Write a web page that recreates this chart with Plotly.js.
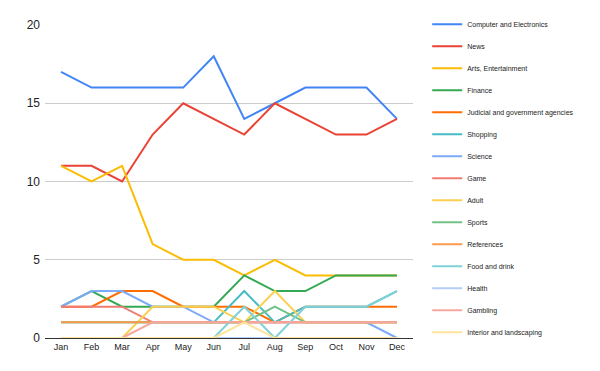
<!DOCTYPE html>
<html><head><meta charset="utf-8">
<script src="https://cdn.plot.ly/plotly-3.0.1.min.js"></script>
<style>html,body{margin:0;padding:0;background:#fff}#chart{width:600px;height:371px}</style>
</head><body><div id="chart"></div>
<script>
const months = ["Jan","Feb","Mar","Apr","May","Jun","Jul","Aug","Sep","Oct","Nov","Dec"];
const seriesNames = ["Computer and Electronics","News","Arts, Entertainment","Finance","Judicial and government agencies","Shopping","Science","Game","Adult","Sports","References","Food and drink","Health","Gambling","Interior and landscaping"];
const computer  = [17,16,16,16,16,18,14,15,16,16,16,14];
const news      = [11,11,10,13,15,14,13,15,14,13,13,14];
const arts      = [11,10,11,6,5,5,4,5,4,4,4,4];
const finance   = [2,3,2,2,2,2,4,3,3,4,4,4];
const judicial  = [2,2,3,3,2,2,2,1,2,2,2,2];
const shopping  = [1,1,1,1,1,1,3,1,2,2,2,3];
const science   = [2,3,3,2,2,1,1,1,1,1,1,0];
const game      = [2,2,2,1,1,1,1,1,1,1,1,1];
const adult     = [0,0,0,2,2,2,1,3,1,1,1,1];
const sports    = [1,1,1,1,1,1,1,2,1,1,1,1];
const references= [1,1,1,1,1,1,1,1,1,1,1,1];
const food      = [0,0,0,0,0,0,2,0,2,2,2,3];
const health    = [0,0,0,0,0,0,0,0,0,0,0,0];
const gambling  = [0,0,0,1,1,1,1,1,1,1,1,1];
const interior  = [0,0,0,0,0,0,1,0,0,0,0,0];
const allValues = [computer,news,arts,finance,judicial,shopping,science,game,adult,sports,references,food,health,gambling,interior];
const colors = ["#4285F4","#EA4335","#FBBC04","#34A853","#FF6D01","#46BDC6","#7BAAF7","#F07B72","#FCD04F","#71C287","#FF994D","#7ED1D7","#B3CEFB","#F7A7A1","#FDE49B"];

const traces = allValues.map((v,i)=>({
  x: months, y: v, name: seriesNames[i], type:'scatter', mode:'lines',
  line:{color:colors[i], width:2}, legendgroup:'g'+i, hoverinfo:'skip'
}));

const layout = {
  width:600, height:371,
  margin:{l:45, r:187, t:25, b:33},
  paper_bgcolor:'#fff', plot_bgcolor:'#fff',
  font:{family:'Liberation Sans, Arial, sans-serif', color:'#222'},
  showlegend:true,
  legend:{xref:'container', yref:'container', x:0.712, y:0.974, xanchor:'left', yanchor:'top',
    font:{size:7, color:'#222'}, tracegroupgap:3, bgcolor:'rgba(0,0,0,0)', maxheight:1},
  xaxis:{type:'category', range:[-0.525,11.525], showgrid:false, zeroline:false,
    showline:true, linecolor:'#333', linewidth:1, ticks:'', tickfont:{size:9, color:'#222'}, fixedrange:true},
  yaxis:{range:[0,20], tickvals:[0,5,10,15,20], showgrid:true, gridcolor:'#ccc', gridwidth:1,
    zeroline:false, ticks:'', tickfont:{size:12, color:'#222'}, ticklabelstandoff:4, fixedrange:true}
};
Plotly.newPlot('chart', traces, layout, {displayModeBar:false, staticPlot:true});
</script></body></html>
